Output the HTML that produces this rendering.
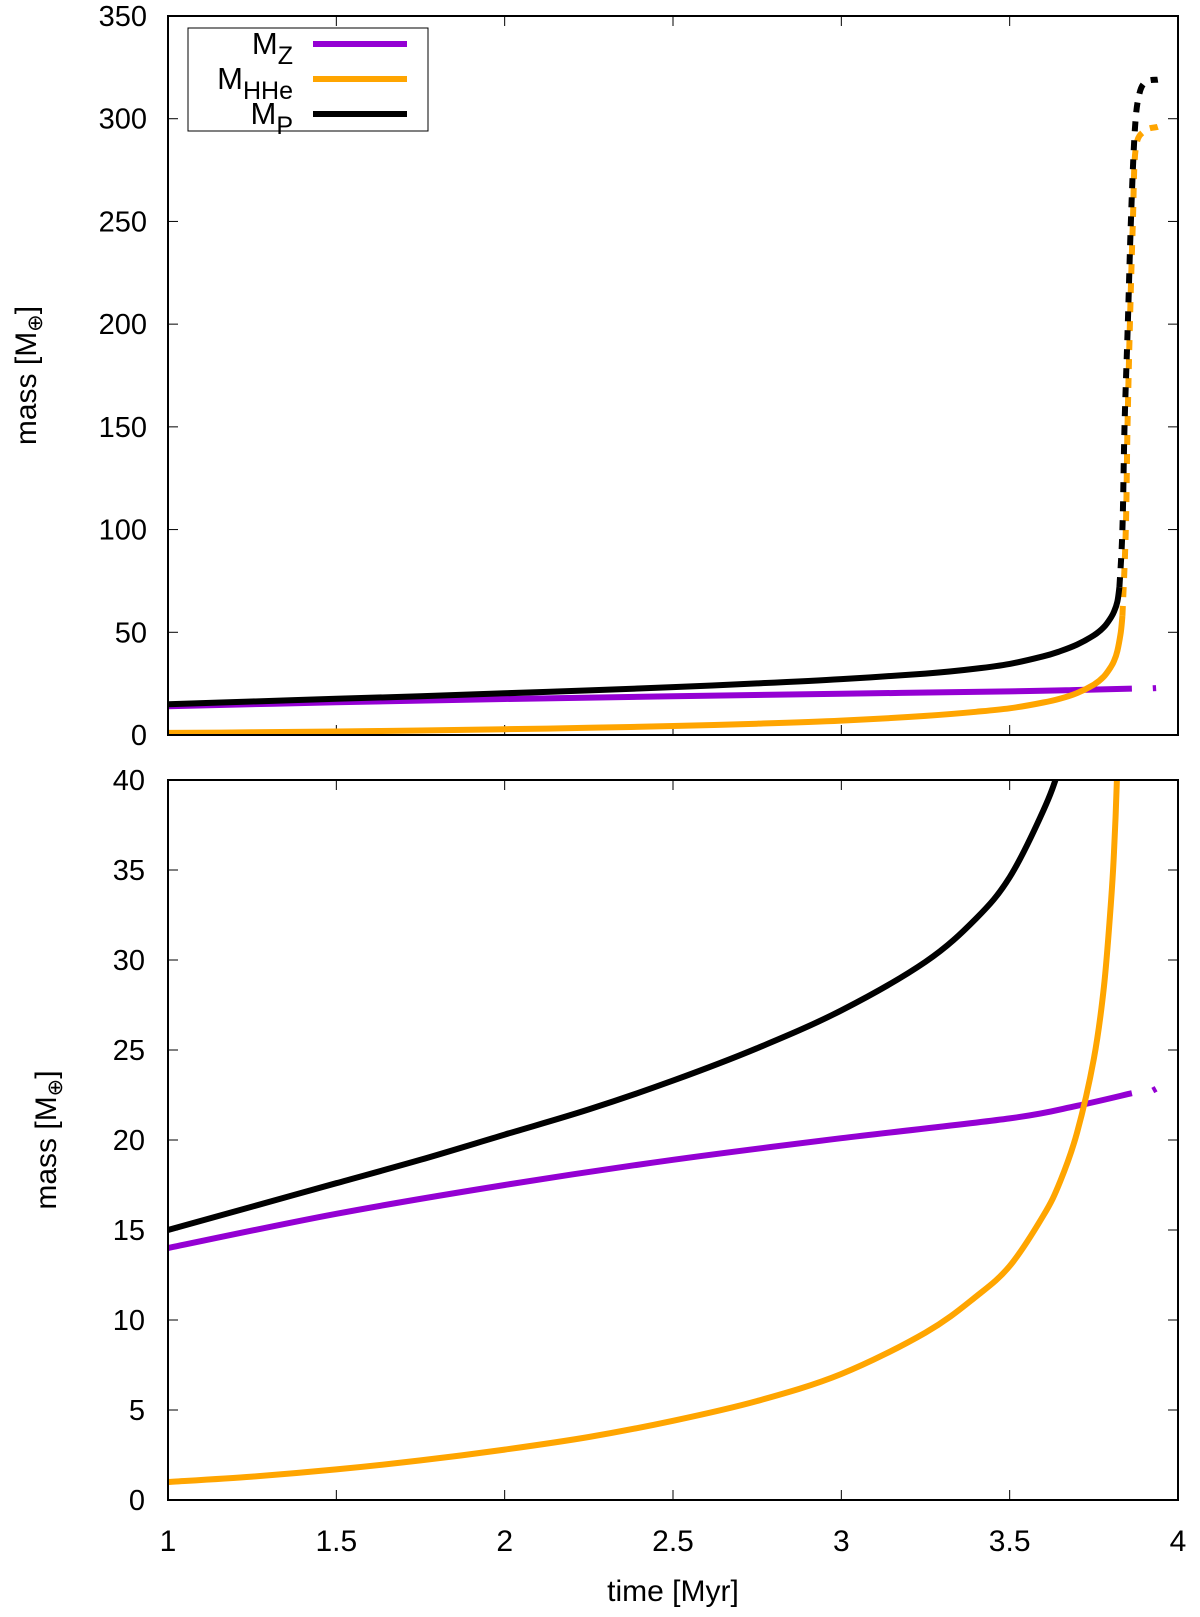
<!DOCTYPE html>
<html><head><meta charset="utf-8"><style>
html,body{margin:0;padding:0;background:#fff;}
svg text{font-family:"Liberation Sans",sans-serif;fill:#000;}
</style></head><body>
<svg id="chart" width="1200" height="1612" viewBox="0 0 1200 1612" xmlns="http://www.w3.org/2000/svg"></svg>
<script>
// ---- data ----
const tP = [1,1.25,1.5,1.75,2,2.25,2.5,2.75,3,3.25,3.4,3.5,3.6,3.65,3.7,3.75,3.78,3.8,3.81,3.82,3.826];
const mP = [15,16.3,17.6,18.9,20.3,21.7,23.3,25.1,27.2,29.9,32.3,34.6,38.3,40.8,44,48.5,52.5,57,60,65,72];
const tPd = [3.826,3.835,3.841,3.851,3.86,3.872,3.885,3.905,3.94];
const mPd = [72,100,150,200,250,295,312,318,319];
const tH = [1,1.25,1.5,1.75,2,2.25,2.5,2.75,3,3.25,3.4,3.5,3.6,3.65,3.7,3.75,3.78,3.8,3.81,3.82,3.83,3.835];
const mH = [1,1.3,1.7,2.2,2.8,3.5,4.4,5.5,7,9.3,11.3,13.0,15.8,17.7,20.4,24.5,28.5,33,36,41,50,58];
const tHd = [3.835,3.845,3.85,3.857,3.866,3.874,3.9,3.94];
const mHd = [58,100,150,200,250,285,294,296];
const tZ = [1,1.5,2,2.5,3,3.5,3.7,3.863];
const mZ = [14,15.9,17.5,18.9,20.1,21.2,21.9,22.6];
const tZd = [3.925,3.935];
const mZd = [22.75,22.85];
const xTicks = [1,1.5,2,2.5,3,3.5,4];
const yTicksTop = [0,50,100,150,200,250,300,350];
const yTicksBot = [0,5,10,15,20,25,30,35,40];

const NS="http://www.w3.org/2000/svg";
const svg=document.getElementById('chart');
function mk(tag,attrs,parent){const e=document.createElementNS(NS,tag);for(const k in attrs)e.setAttribute(k,attrs[k]);(parent||svg).appendChild(e);return e;}
function smooth(P){
  if(P.length<3)return 'M'+P.map(p=>p[0].toFixed(1)+','+p[1].toFixed(1)).join(' L');
  let d='M'+P[0][0].toFixed(1)+','+P[0][1].toFixed(1);
  for(let i=0;i<P.length-1;i++){
    const p0=P[Math.max(0,i-1)],p1=P[i],p2=P[i+1],p3=P[Math.min(P.length-1,i+2)];
    const c1=[p1[0]+(p2[0]-p0[0])/6,p1[1]+(p2[1]-p0[1])/6];
    const c2=[p2[0]-(p3[0]-p1[0])/6,p2[1]-(p3[1]-p1[1])/6];
    d+=' C'+c1.map(v=>v.toFixed(1)).join(',')+' '+c2.map(v=>v.toFixed(1)).join(',')+' '+p2[0].toFixed(1)+','+p2[1].toFixed(1);
  }
  return d;
}

const X0=168,X1=1178;
const xs=t=>X0+(t-1)/3*(X1-X0);
const panels=[
 {name:'top',y0:16,y1:735,max:350,ticks:yTicksTop,labX:147,titleX:36},
 {name:'bottom',y0:780,y1:1500,max:40,ticks:yTicksBot,labX:145,titleX:56}
];
const colors={P:'#000000',H:'#ffa500',Z:'#9400d3'};

panels.forEach(p=>{
  const ys=v=>p.y1-v/p.max*(p.y1-p.y0);
  const g=mk('g',{});
  
  
  const cid='clip-'+p.name;
  const cp=mk('clipPath',{id:cid},g);mk('rect',{x:X0,y:p.y0,width:X1-X0,height:p.y1-p.y0},cp);
  xTicks.forEach(t=>{
    const x=xs(t);
    const a=mk('line',{x1:x,x2:x,y1:p.y1,y2:p.y1-10,stroke:'#000','stroke-width':1},g);
    
    const b=mk('line',{x1:x,x2:x,y1:p.y0,y2:p.y0+10,stroke:'#000','stroke-width':1},g);
    
    if(p.name==='bottom'){
      const tx=mk('text',{x:x,y:1551,'font-size':30,'text-anchor':'middle'},g);tx.textContent=String(t);
      
    }
  });
  p.ticks.forEach(v=>{
    const y=ys(v);
    const a=mk('line',{x1:X0,x2:X0+10,y1:y,y2:y,stroke:'#000','stroke-width':1},g);
    
    const b=mk('line',{x1:X1,x2:X1-10,y1:y,y2:y,stroke:'#000','stroke-width':1},g);
    
    const tx=mk('text',{x:p.labX,y:y+10,'font-size':29,'text-anchor':'end'},g);tx.textContent=String(v);
    
  });
  const series=[
    ['Z',tZ,mZ,false],['Z',tZd,mZd,true],
    ['H',tH,mH,false],['H',tHd,mHd,true],
    ['P',tP,mP,false],['P',tPd,mPd,true]
  ];
  series.forEach(([k,ts,ms,dash])=>{
    const P=ts.map((t,i)=>[xs(t),ys(ms[i])]);
    const a={d:smooth(P),fill:'none',stroke:colors[k],'stroke-width':6,'stroke-linejoin':'round','clip-path':'url(#'+cid+')'};
    if(dash)a['stroke-dasharray']='10,9';
    const l=mk('path',a,g);
    
    
  });
  const fr=mk('rect',{x:X0,y:p.y0,width:X1-X0,height:p.y1-p.y0,fill:'none',stroke:'#000','stroke-width':2},g);
  
  const yt=mk('text',{x:p.titleX,y:(p.y0+p.y1)/2,'font-size':30,'text-anchor':'middle',transform:'rotate(-90 '+p.titleX+' '+(p.y0+p.y1)/2+')'},g);
  yt.innerHTML='mass [M<tspan font-size="21" dy="6">⊕</tspan><tspan dy="-6">]</tspan>';
  
});

const xt=mk('text',{x:673,y:1601,'font-size':30,'text-anchor':'middle'});
xt.textContent='time [Myr]';



const lg=mk('g',{});


mk('rect',{x:188,y:28,width:240,height:103,fill:'#fff',stroke:'#000','stroke-width':1},lg);
const entries=[['Z','Z',44],['H','HHe',79],['P','P',114]];
entries.forEach(([k,sub,y])=>{
  const t=mk('text',{x:293,y:y+10,'font-size':31,'text-anchor':'end'},lg);
  t.innerHTML='M<tspan font-size="25" dy="10">'+sub+'</tspan>';
  
  
  const l=mk('line',{x1:313,x2:407,y1:y,y2:y,stroke:colors[k],'stroke-width':6},lg);
  
  
});
</script>
</body></html>
